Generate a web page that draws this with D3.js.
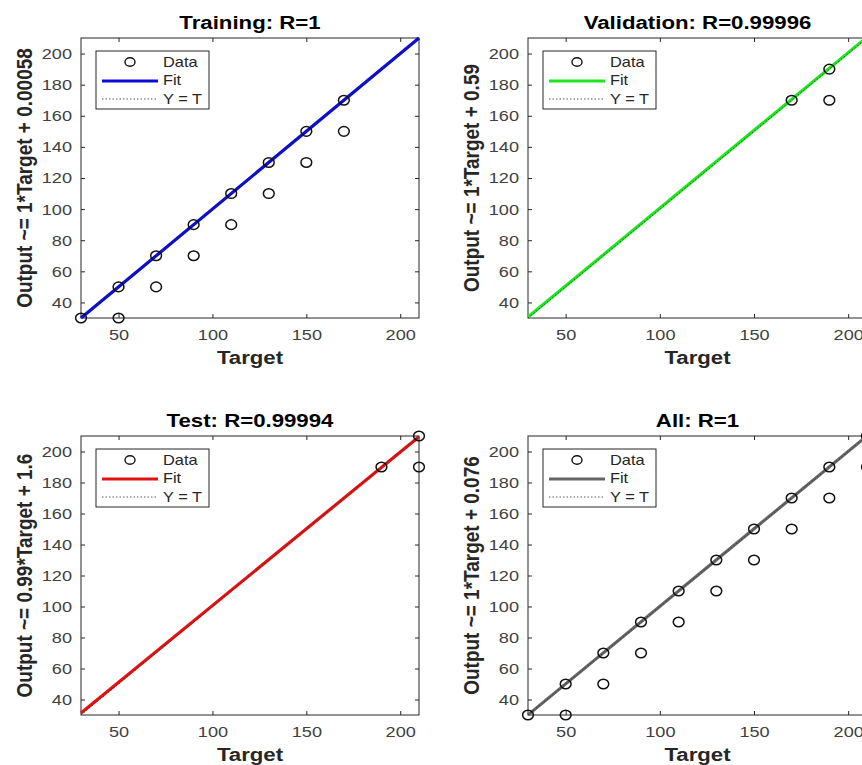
<!DOCTYPE html>
<html>
<head>
<meta charset="utf-8">
<script src="https://cdn.jsdelivr.net/npm/d3@7"></script>
<style>
  body { margin: 0; background: #fff; }
  svg { display: block; font-family: "Liberation Sans", Arial, sans-serif; }
</style>
</head>
<body>
<div id="chart"></div>
<script>
// regression plots (training / validation / test / all)
const targetTicks = [50, 100, 150, 200];
const outputTicks = [40, 60, 80, 100, 120, 140, 160, 180, 200];
const axisRange = [30, 210];

const trainTarget = [30, 50, 50, 70, 70, 90, 90, 110, 110, 130, 130, 150, 150, 170, 170];
const trainOutput = [30, 50, 30, 70, 50, 90, 70, 110, 90, 130, 110, 150, 130, 170, 150];
const valTarget = [170, 190, 190];
const valOutput = [170, 190, 170];
const testTarget = [190, 210, 210];
const testOutput = [190, 210, 190];
const allTarget = [30, 50, 50, 70, 70, 90, 90, 110, 110, 130, 130, 150, 150, 170, 170, 190, 190, 210, 210];
const allOutput = [30, 50, 30, 70, 50, 90, 70, 110, 90, 130, 110, 150, 130, 170, 150, 190, 170, 210, 190];

const titles = ["Training: R=1", "Validation: R=0.99996", "Test: R=0.99994", "All: R=1"];
const yLabels = ["Output ~= 1*Target + 0.00058", "Output ~= 1*Target + 0.59",
  "Output ~= 0.99*Target + 1.6", "Output ~= 1*Target + 0.076"];
const fitSlope = [1, 1, 0.99, 1];
const fitIntercept = [0.00058, 0.59, 1.6, 0.076];
const fitColors = ["#0a0ad6", "#1ee61e", "#e31212", "#666666"];
const legendLabels = ["Data", "Fit", "Y = T"];

const targets = [trainTarget, valTarget, testTarget, allTarget];
const outputs = [trainOutput, valOutput, testOutput, allOutput];

const W = 862, H = 765;
const SX = 1.17; // source image is stretched horizontally
const boxes = [
  { x0: 81, x1: 419, y0: 38, y1: 318 },
  { x0: 528, x1: 867, y0: 38, y1: 318 },
  { x0: 81, x1: 419, y0: 436, y1: 715 },
  { x0: 528, x1: 867, y0: 436, y1: 715 }
];

const svg = d3.select("#chart").append("svg")
  .attr("width", W)
  .attr("height", H);

svg.append("rect").attr("width", W).attr("height", H).attr("fill", "#fff");

const stretchText = function (sel) {
  sel.each(function () {
    const t = d3.select(this);
    const x = +t.attr("x") || 0;
    t.attr("x", x / SX).attr("transform", `scale(${SX},1)`);
  });
};

boxes.forEach(function (b, i) {
  const x = d3.scaleLinear().domain(axisRange).range([b.x0, b.x1]);
  const y = d3.scaleLinear().domain(axisRange).range([b.y1, b.y0]);
  const g = svg.append("g");

  // ticks on all four sides, pointing inward
  const axes = [
    [d3.axisBottom(x).tickValues(targetTicks), `translate(0,${b.y1})`, true],
    [d3.axisTop(x).tickValues(targetTicks).tickFormat(""), `translate(0,${b.y0})`, false],
    [d3.axisLeft(y).tickValues(outputTicks), `translate(${b.x0},0)`, true],
    [d3.axisRight(y).tickValues(outputTicks).tickFormat(""), `translate(${b.x1},0)`, false]
  ];
  axes.forEach(function (a, k) {
    const ax = g.append("g")
      .attr("transform", a[1])
      .call(a[0].tickSizeInner(-4).tickSizeOuter(0).tickPadding(k == 0 ? 11 : 9));
    ax.select(".domain").remove();
    ax.selectAll("line").attr("stroke", "#262626");
    ax.selectAll("text")
      .attr("font-size", 15.5)
      .attr("font-family", "Liberation Sans, Arial, sans-serif")
      .attr("fill", "#404040")
      .call(stretchText);
  });

  g.append("rect")
    .attr("x", b.x0).attr("y", b.y0)
    .attr("width", b.x1 - b.x0).attr("height", b.y1 - b.y0)
    .attr("fill", "none").attr("stroke", "#262626").attr("stroke-width", 1);

  // fit line
  const line = d3.line().x(d => x(d[0])).y(d => y(d[1]));
  g.append("path")
    .datum(axisRange.map(t => [t, fitSlope[i] * t + fitIntercept[i]]))
    .attr("d", line)
    .attr("fill", "none")
    .attr("stroke", fitColors[i])
    .attr("stroke-width", 3.2);

  // Y = T
  g.append("path")
    .datum(axisRange.map(t => [t, t]))
    .attr("d", line)
    .attr("fill", "none")
    .attr("stroke", "#333")
    .attr("stroke-width", 0.8)
    .attr("stroke-dasharray", "1.5,2");

  // data
  g.selectAll("ellipse.pt")
    .data(targets[i].map((t, k) => [t, outputs[i][k]]))
    .join("ellipse")
    .attr("class", "pt")
    .attr("cx", d => x(d[0]))
    .attr("cy", d => y(d[1]))
    .attr("rx", 5.4).attr("ry", 4.8)
    .attr("fill", "none")
    .attr("stroke", "#111")
    .attr("stroke-width", 1.5);

  // legend
  const lg = g.append("g").attr("transform", `translate(${b.x0 + 15},${b.y0 + 13})`);
  lg.append("rect")
    .attr("width", 113).attr("height", 58)
    .attr("fill", "#fff").attr("stroke", "#262626").attr("stroke-width", 1);
  lg.append("ellipse")
    .attr("cx", 34).attr("cy", 11).attr("rx", 5).attr("ry", 4.3)
    .attr("fill", "none").attr("stroke", "#111").attr("stroke-width", 1.4);
  lg.append("line")
    .attr("x1", 6).attr("x2", 62).attr("y1", 30).attr("y2", 30)
    .attr("stroke", fitColors[i]).attr("stroke-width", 3.2);
  lg.append("line")
    .attr("x1", 6).attr("x2", 62).attr("y1", 48).attr("y2", 48)
    .attr("stroke", "#333").attr("stroke-width", 0.8).attr("stroke-dasharray", "1.5,2");
  lg.selectAll("text.lab")
    .data(legendLabels)
    .join("text")
    .attr("class", "lab")
    .attr("x", 67)
    .attr("y", (d, k) => 16 + k * 18.5)
    .attr("font-size", 14)
    .attr("fill", "#262626")
    .text(d => d)
    .call(stretchText);

  const cx = (b.x0 + b.x1) / 2;
  // title
  g.append("text")
    .attr("transform", `translate(${cx},${b.y0 - 9}) scale(${SX},1)`)
    .attr("text-anchor", "middle")
    .attr("font-size", 19)
    .attr("font-weight", "bold")
    .attr("fill", "#000")
    .text(titles[i]);
  // x label
  g.append("text")
    .attr("transform", `translate(${cx},${b.y1 + 45.5}) scale(${SX},1)`)
    .attr("text-anchor", "middle")
    .attr("font-size", 19)
    .attr("font-weight", "bold")
    .attr("fill", "#262626")
    .text("Target");
  // y label
  g.append("text")
    .attr("transform", `translate(${b.x0 - 49},${(b.y0 + b.y1) / 2}) scale(${SX},1) rotate(-90)`)
    .attr("text-anchor", "middle")
    .attr("font-size", 19)
    .attr("font-weight", "bold")
    .attr("fill", "#262626")
    .text(yLabels[i]);
});
</script>
</body>
</html>
